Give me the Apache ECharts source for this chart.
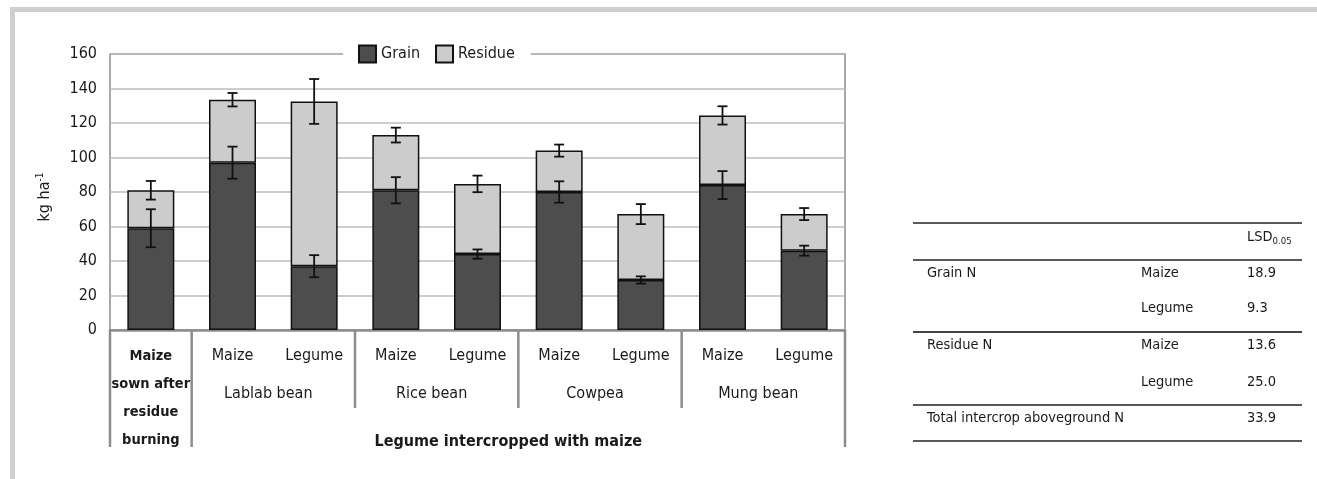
<!DOCTYPE html>
<html lang="en">
<head>
<meta charset="UTF-8">
<title>Grain and residue N</title>
<style>
  html, body { margin: 0; padding: 0; background: #fff; }
  #chart { width: 1317px; height: 479px; }
</style>
<script src="https://cdn.jsdelivr.net/npm/echarts@6/dist/echarts.min.js"></script>
</head>
<body>
<div id="chart"></div>
<script>
const FONT = "'DejaVu Sans Condensed', 'Liberation Sans Narrow', sans-serif";
const INK = '#1a1a1a';

// axis rows
const barLabels = ['Maize\nsown after\nresidue\nburning', 'Maize', 'Legume', 'Maize', 'Legume', 'Maize', 'Legume', 'Maize', 'Legume'];
const groupNames = ['Lablab bean', 'Rice bean', 'Cowpea', 'Mung bean'];
const groupStart = [1, 3, 5, 7];
const groupEnd = [2, 4, 6, 8];
const outerLabel = 'Legume intercropped with maize';

// kg ha-1
const grain = [59, 97, 37, 81, 44, 80, 29, 84, 46];
const residue = [22, 36.5, 95.5, 32, 40.7, 24, 38.2, 40.4, 21.2];
const grainErr = [11, 9.3, 6.4, 7.6, 2.7, 6.2, 2.1, 8.1, 2.9];
const totalErr = [5.4, 3.9, 13, 4.3, 4.8, 3.5, 5.8, 5.3, 3.5];

const yMin = 0, yMax = 160, yStep = 20;

// LSD table at the right
const tableRows = [
  ['Grain N', 'Maize', '18.9'],
  ['', 'Legume', '9.3'],
  ['Residue N', 'Maize', '13.6'],
  ['', 'Legume', '25.0'],
  ['Total intercrop aboveground N', '', '33.9']
];

// error bar ranges: grain top and total top of each bar
const errData = [];
grain.forEach((g, i) => {
  errData.push([i, g - grainErr[i], g + grainErr[i]]);
  const t = g + residue[i];
  errData.push([i, t - totalErr[i], t + totalErr[i]]);
});

const divider = { stroke: '#8c8c8c', lineWidth: 2.5 };

function renderErr(params, api) {
  const lo = api.coord([api.value(0), api.value(1)]);
  const hi = api.coord([api.value(0), api.value(2)]);
  const w = 5;
  const style = { stroke: '#111', lineWidth: 1.8 };
  return {
    type: 'group',
    children: [
      { type: 'line', shape: { x1: lo[0], y1: lo[1], x2: hi[0], y2: hi[1] }, style },
      { type: 'line', shape: { x1: lo[0] - w, y1: lo[1], x2: lo[0] + w, y2: lo[1] }, style },
      { type: 'line', shape: { x1: hi[0] - w, y1: hi[1], x2: hi[0] + w, y2: hi[1] }, style }
    ]
  };
}

// second row: legume names + short dividers
function renderGroups(params, api) {
  const band = api.size([1, 0])[0];
  const s = api.coord([api.value(0), 0]);
  const e = api.coord([api.value(1), 0]);
  const left = s[0] - band / 2, right = e[0] + band / 2;
  const kids = [{
    type: 'text',
    style: {
      text: groupNames[params.dataIndex], x: (left + right) / 2 - 5, y: s[1] + 64,
      align: 'center', verticalAlign: 'middle', fontSize: 16, fontFamily: FONT, fill: INK
    }
  }];
  if (params.dataIndex > 0) {
    kids.push({ type: 'line', shape: { x1: left, y1: s[1], x2: left, y2: s[1] + 78 }, style: divider });
  }
  return { type: 'group', children: kids };
}

// third row: outer label + long dividers
function renderOuter(params, api) {
  const band = api.size([1, 0])[0];
  const a = api.coord([api.value(0), 0]);
  const s = api.coord([api.value(1), 0]);
  const e = api.coord([api.value(2), 0]);
  const x0 = a[0] - band / 2, x1 = s[0] - band / 2, x2 = e[0] + band / 2;
  const y = a[1];
  return {
    type: 'group',
    children: [
      { type: 'line', shape: { x1: x0, y1: y, x2: x0, y2: y + 117 }, style: divider },
      { type: 'line', shape: { x1: x1, y1: y, x2: x1, y2: y + 117 }, style: divider },
      { type: 'line', shape: { x1: x2, y1: y, x2: x2, y2: y + 117 }, style: divider },
      {
        type: 'text',
        style: {
          text: outerLabel, x: (x1 + x2) / 2 - 10, y: y + 112,
          align: 'center', verticalAlign: 'middle', fontSize: 16, fontWeight: 'bold', fontFamily: FONT, fill: INK
        }
      }
    ]
  };
}

// table graphics
const colX = [927, 1141, 1247];
const rowY = [273, 308, 345, 382, 418];
const ruleY = [223, 260, 332, 405, 441];
const tableGraphics = [];
ruleY.forEach((y, i) => {
  tableGraphics.push({
    type: 'line', shape: { x1: 913, y1: y, x2: 1302, y2: y },
    style: { stroke: i === 2 ? '#444' : '#222', lineWidth: i === 2 ? 2 : 1.4 }
  });
});
tableGraphics.push({
  type: 'text', x: colX[2], y: 237,
  style: {
    text: '{a|LSD}{b|0.05}', verticalAlign: 'middle',
    rich: {
      a: { fontSize: 14.5, fontFamily: FONT, fill: INK, lineHeight: 20 },
      b: { fontSize: 9.5, fontFamily: FONT, fill: INK, verticalAlign: 'bottom', lineHeight: 12 }
    }
  }
});
tableRows.forEach((row, i) => {
  row.forEach((t, j) => {
    if (!t) return;
    tableGraphics.push({
      type: 'text', x: colX[j], y: rowY[i],
      style: { text: t, fontSize: 14.5, fontFamily: FONT, fill: INK, verticalAlign: 'middle' }
    });
  });
});

const chart = echarts.init(document.getElementById('chart'));
chart.setOption({
  animation: false,
  textStyle: { fontFamily: FONT, color: INK },
  grid: {
    left: 110, right: 472, top: 54, bottom: 149,
    show: true, borderColor: '#8c8c8c', borderWidth: 1.5
  },
  legend: {
    data: ['Grain', 'Residue'],
    icon: 'rect',
    left: 343, top: 38,
    padding: [5, 16, 5, 15],
    backgroundColor: '#fff',
    itemWidth: 17, itemHeight: 17, itemGap: 15,
    textStyle: { fontSize: 16, lineHeight: 22, fontFamily: FONT, color: INK }
  },
  xAxis: {
    type: 'category',
    data: barLabels,
    axisLine: { lineStyle: { color: '#8c8c8c', width: 2.5 } },
    axisTick: { show: false },
    axisLabel: {
      interval: 0, margin: 12, lineHeight: 28, fontSize: 16, color: INK, fontFamily: FONT,
      formatter: (v, i) => i === 0 ? '{b|' + v.split('\n').join('}\n{b|') + '}' : v,
      rich: { b: { fontWeight: 'bold', fontSize: 14.5, lineHeight: 28, fontFamily: FONT, color: INK } }
    }
  },
  yAxis: {
    type: 'value', min: yMin, max: yMax, interval: yStep,
    name: '{a|kg ha}{b|-1}',
    nameLocation: 'middle', nameGap: 55,
    nameTextStyle: {
      padding: [0, 10, 0, 0],
      rich: {
        a: { fontSize: 16, lineHeight: 20, fontFamily: FONT, color: INK },
        b: { fontSize: 10, lineHeight: 10, fontFamily: FONT, color: INK, verticalAlign: 'top' }
      }
    },
    axisLine: { show: false },
    axisTick: { show: false },
    axisLabel: { fontSize: 16, margin: 13, color: INK, fontFamily: FONT },
    splitLine: { lineStyle: { color: '#bdbdbd', width: 1.5 } }
  },
  series: [
    {
      name: 'Grain', type: 'bar', stack: 'n', data: grain, barWidth: 47,
      itemStyle: { color: '#4d4d4d', borderColor: '#111', borderWidth: 1.5 }
    },
    {
      name: 'Residue', type: 'bar', stack: 'n', data: residue, barWidth: 47,
      itemStyle: { color: '#cccccc', borderColor: '#111', borderWidth: 1.5 }
    },
    {
      type: 'custom', renderItem: renderErr, data: errData, z: 5,
      encode: { x: 0, y: [1, 2] }, silent: true
    },
    {
      type: 'custom', renderItem: renderGroups, clip: false, silent: true,
      data: groupStart.map((s, i) => [s, groupEnd[i]]),
      encode: { x: [0, 1] }
    },
    {
      type: 'custom', renderItem: renderOuter, clip: false, silent: true,
      data: [[0, groupStart[0], groupEnd[groupEnd.length - 1]]],
      encode: { x: [0, 1, 2] }
    }
  ],
  graphic: [
    { type: 'rect', shape: { x: 10, y: 7, width: 1307, height: 5 }, style: { fill: '#cfcfcf' } },
    { type: 'rect', shape: { x: 10, y: 7, width: 5, height: 472 }, style: { fill: '#cfcfcf' } },
    ...tableGraphics
  ]
});
</script>
</body>
</html>
